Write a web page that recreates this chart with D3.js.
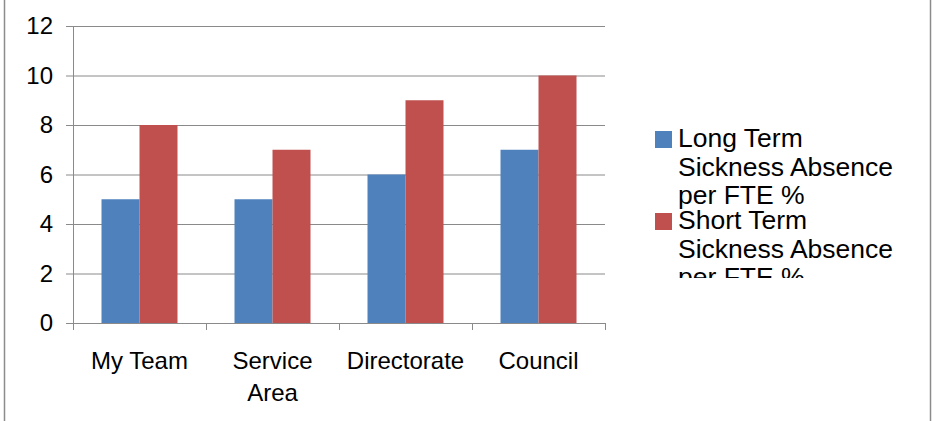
<!DOCTYPE html>
<html>
<head>
<meta charset="utf-8">
<script src="https://cdn.jsdelivr.net/npm/d3@7"></script>
<style>
  body { margin: 0; background: #fff; }
  text { font-family: "Liberation Sans", Arial, sans-serif; fill: #000; }
</style>
</head>
<body>
<div id="chart"></div>
<script>
// values
var categories = ["My Team", "Service Area", "Directorate", "Council"];
var seriesNames = ["Long Term Sickness Absence per FTE %", "Short Term Sickness Absence per FTE %"];
var longTerm = [5, 5, 6, 7];
var shortTerm = [8, 7, 9, 10];
var yTicks = [0, 2, 4, 6, 8, 10, 12];

var colors = ["#4F81BD", "#C0504D"];

var W = 933, H = 421;
var margin = {top: 26, right: 328, bottom: 98, left: 73};
var width = W - margin.left - margin.right,
    height = H - margin.top - margin.bottom;

var svg = d3.select("#chart")
            .append("svg")
                .attr("width", W)
                .attr("height", H);

// outer chart frame (top and bottom run off the picture)
svg.append("rect")
    .attr("x", 4.5).attr("y", -5)
    .attr("width", 926).attr("height", H + 10)
    .attr("fill", "none")
    .attr("stroke", "#8c8c8c")
    .attr("stroke-width", 1.5);

var g = svg.append("g")
    .attr("transform", "translate(" + margin.left + "," + margin.top + ")");

var x0 = d3.scaleBand().domain(categories).range([0, width]);

var y = d3.scaleLinear()
    .domain([0, 12])
    .range([height, 0]);

// gridlines
g.append("g")
    .selectAll("line")
    .data(yTicks.filter(function(d) { return d > 0; }))
    .join("line")
        .attr("x1", 0).attr("x2", width)
        .attr("y1", function(d) { return y(d) + 0.5; })
        .attr("y2", function(d) { return y(d) + 0.5; })
        .attr("stroke", "#8a8a8a")
        .attr("stroke-width", 1);

// bars, grouped per series
var barW = x0.bandwidth() / 3.5;
var series = [longTerm, shortTerm];
series.forEach(function(vals, si) {
    g.append("g")
        .selectAll("rect")
        .data(vals)
        .join("rect")
            .attr("x", function(d, i) { return x0(categories[i]) + x0.bandwidth() / 2 - barW + si * barW; })
            .attr("y", function(d) { return y(d); })
            .attr("width", barW)
            .attr("height", function(d) { return height - y(d); })
            .attr("fill", colors[si]);
});

// y axis
var yAxis = g.append("g")
    .call(d3.axisLeft(y).tickValues(yTicks).tickSize(7).tickPadding(13).tickFormat(d3.format("d")));
yAxis.select(".domain").attr("stroke", "#8a8a8a").attr("d", "M0.5,0V" + height);
yAxis.selectAll(".tick line").attr("stroke", "#8a8a8a");
yAxis.selectAll("text")
    .style("font-size", "24px")
    .attr("fill", "#000");

// x axis
var xAxis = g.append("g")
    .attr("transform", "translate(0," + height + ")")
    .call(d3.axisBottom(x0).tickSize(0).tickFormat(""));
xAxis.select(".domain").attr("stroke", "#8a8a8a").attr("d", "M0," + 0.5 + "H" + width);

// category boundary ticks
xAxis.append("g")
    .selectAll("line")
    .data(categories.concat([null]))
    .join("line")
        .attr("x1", function(d, i) { return Math.round(i * x0.step()) + 0.5; })
        .attr("x2", function(d, i) { return Math.round(i * x0.step()) + 0.5; })
        .attr("y1", 0).attr("y2", 7)
        .attr("stroke", "#8a8a8a");

// category labels, wrapped when too wide
var labels = xAxis.append("g")
    .selectAll("text")
    .data(categories)
    .join("text")
        .attr("x", function(d) { return x0(d) + x0.bandwidth() / 2; })
        .attr("y", 46)
        .attr("text-anchor", "middle")
        .style("font-size", "24px");
labels.each(function(d) {
    var words = d === "Service Area" ? ["Service", "Area"] : [d];
    var t = d3.select(this);
    words.forEach(function(w, i) {
        t.append("tspan")
            .attr("x", x0(d) + x0.bandwidth() / 2)
            .attr("dy", i === 0 ? 0 : 32)
            .text(w);
    });
});

// legend, clipped like the original
svg.append("clipPath").attr("id", "legclip")
    .append("rect").attr("x", 640).attr("y", 110).attr("width", 285).attr("height", 168);

var legend = svg.append("g").attr("clip-path", "url(#legclip)");
var legLines = [["Long Term", "Sickness Absence", "per FTE %"], ["Short Term", "Sickness Absence", "per FTE %"]];
var legY = [147, 229];
legLines.forEach(function(lines, i) {
    legend.append("rect")
        .attr("x", 655).attr("y", legY[i] - 16)
        .attr("width", 17).attr("height", 17)
        .attr("fill", colors[i]);
    var t = legend.append("text")
        .attr("x", 678).attr("y", legY[i])
        .style("font-size", "26.5px");
    lines.forEach(function(l, j) {
        t.append("tspan").attr("x", 678).attr("dy", j === 0 ? 0 : 28.5).text(l);
    });
});
</script>
</body>
</html>
